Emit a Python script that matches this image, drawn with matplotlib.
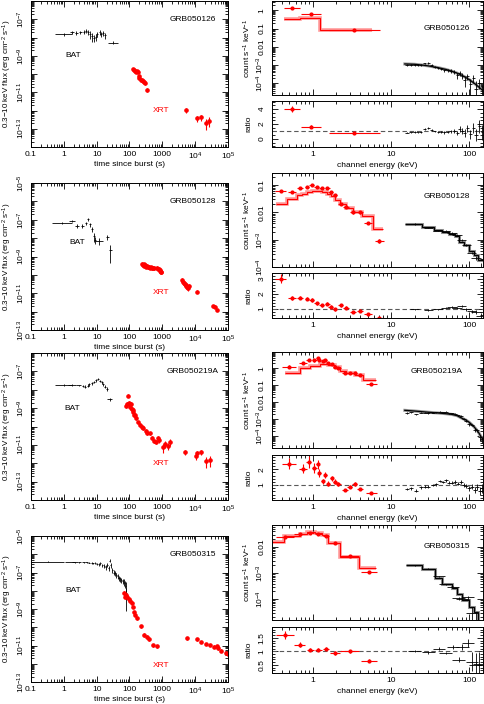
import numpy as np
import matplotlib.pyplot as plt
from matplotlib.ticker import FixedLocator, LogLocator, NullFormatter, FuncFormatter, AutoMinorLocator

plt.rcParams['font.family'] = ['Liberation Sans', 'DejaVu Sans']
plt.rcParams['mathtext.fontset'] = 'custom'
plt.rcParams['mathtext.rm'] = 'Liberation Sans'
plt.rcParams['mathtext.it'] = 'Liberation Sans:italic'
plt.rcParams['font.size'] = 6

names = ['GRB050126', 'GRB050128', 'GRB050219A', 'GRB050315']

# ---------------- light curves ----------------
# GRB050126
lc1_bat_t = [0.98, 1.76, 2.4, 3.15, 4.0, 4.8, 5.6, 6.3, 7.3, 8.4, 9.4, 10.5, 12.2, 14.0, 16.1, 18.5, 32.0]
lc1_bat_f = [1.55e-8, 1.9e-8, 1.8e-8, 1.9e-8, 2.1e-8, 2.3e-8, 1.9e-8, 1.5e-8, 1.2e-8, 1.0e-8, 1.1e-8, 1.6e-8,
             1.9e-8, 1.5e-8, 1.7e-8, 1.3e-8, 5.2e-9]
lc1_bat_dt = [0.25, 0.06, 0.05, 0.04, 0.03, 0.03, 0.03, 0.03, 0.03, 0.03, 0.03, 0.03, 0.03, 0.03, 0.03, 0.03, 0.15]
lc1_bat_df = [0.2, 0.15, 0.2, 0.2, 0.25, 0.25, 0.3, 0.45, 0.5, 0.45, 0.4, 0.3, 0.3, 0.3, 0.3, 0.35, 0.2]
lc1_xrt_t = [125, 137, 147, 157, 165, 176, 190, 198, 217, 233, 250, 274, 300, 330, 5200, 11000, 15500, 21000, 26000]
lc1_xrt_f = [1.95e-10, 1.7e-10, 1.4e-10, 1.3e-10, 1.45e-10, 1.3e-10, 7.4e-11, 6.3e-11, 4.9e-11, 4.5e-11, 4.2e-11,
             3.8e-11, 3.2e-11, 1.4e-11, 1.05e-12, 3.7e-13, 4.2e-13, 2.1e-13, 2.75e-13]
lc1_xrt_df = [0.15, 0.15, 0.15, 0.15, 0.15, 0.15, 0.2, 0.2, 0.2, 0.2, 0.2, 0.2, 0.2, 0.3, 0.3, 0.4, 0.4, 0.6, 0.55]

# GRB050128
lc2_bat_t = [0.87, 1.75, 2.6, 3.7, 4.8, 5.4, 6.3, 7.1, 8.4, 9.2, 12.0, 21.0, 26.0]
lc2_bat_f = [6.9e-8, 8.5e-8, 4.6e-8, 4.6e-8, 6.5e-8, 1.1e-7, 5.6e-8, 3.0e-8, 1.3e-8, 7.9e-9, 6.9e-9, 1.2e-8, 2.3e-9]
lc2_bat_dt = [0.3, 0.1, 0.06, 0.06, 0.03, 0.03, 0.03, 0.03, 0.03, 0.03, 0.12, 0.04, 0.04]
lc2_bat_df = [0.15, 0.15, 0.2, 0.2, 0.2, 0.2, 0.25, 0.3, 0.5, 0.4, 0.4, 0.3, 0.8]
lc2_xrt_t = [240, 255, 270, 285, 300, 320, 345, 370, 395, 420, 450, 480, 510, 540,
             700, 740, 780, 820, 860, 900, 940,
             3900, 4200, 4500, 4800, 5100, 5400, 5700, 6000, 6400,
             11000, 35000, 39000, 46000]
lc2_xrt_f = [3.98e-10, 3.55e-10, 3.8e-10, 3.16e-10, 3.47e-10, 2.82e-10, 3.09e-10, 2.63e-10, 2.82e-10, 2.51e-10,
             2.63e-10, 2.4e-10, 2.51e-10, 2.29e-10,
             2.4e-10, 2.19e-10, 2.0e-10, 1.86e-10, 1.66e-10, 1.51e-10, 1.38e-10,
             5.0e-11, 4.2e-11, 3.5e-11, 3.2e-11, 2.8e-11, 2.5e-11, 2.2e-11, 2.0e-11, 2.6e-11,
             1.23e-11, 2.1e-12, 1.9e-12, 1.26e-12]
lc2_xrt_df = [0.2, 0.2, 0.2, 0.2, 0.2, 0.2, 0.2, 0.2, 0.2, 0.2, 0.2, 0.2, 0.2, 0.2,
              0.2, 0.2, 0.2, 0.2, 0.2, 0.2, 0.2,
              0.3, 0.3, 0.3, 0.3, 0.3, 0.3, 0.3, 0.3, 0.3,
              0.2, 0.15, 0.15, 0.15]

# GRB050219A
lc3_bat_t = [0.98, 1.76, 2.8, 3.8, 4.5, 5.3, 6.0, 7.1, 8.4, 9.6, 10.8, 12.7, 14.3, 16.1, 18.0, 20.5, 25.0]
lc3_bat_f = [1.8e-8, 1.8e-8, 1.75e-8, 1.6e-8, 1.5e-8, 1.7e-8, 2.0e-8, 2.25e-8, 2.6e-8, 3.25e-8, 3.9e-8, 3.0e-8,
             2.6e-8, 2.0e-8, 1.5e-8, 1.1e-8, 3.0e-9]
lc3_bat_dt = [0.25, 0.12, 0.08, 0.04, 0.03, 0.03, 0.03, 0.03, 0.03, 0.03, 0.03, 0.03, 0.03, 0.03, 0.03, 0.03, 0.08]
lc3_bat_df = [0.1, 0.1, 0.1, 0.15, 0.15, 0.15, 0.15, 0.15, 0.15, 0.15, 0.15, 0.15, 0.2, 0.2, 0.2, 0.25, 0.2]
lc3_xrt_t = [78.5, 82, 88, 99, 104, 109, 116, 125, 130, 137, 144, 162, 183, 210, 234, 263, 310, 350, 420, 475,
             560, 640, 750, 810, 1020, 1190, 1440, 1690, 4950, 10500, 11500, 15300, 22000, 27800]
lc3_xrt_f = [1.38e-9, 1.62e-9, 4.8e-9, 1.82e-9, 1.2e-9, 1.62e-9, 9.1e-10, 7.9e-10, 6.5e-10, 4.3e-10, 4.3e-10,
             2.8e-10, 1.7e-10, 1.23e-10, 1.0e-10, 8.1e-11, 5.8e-11, 4.3e-11, 4.3e-11, 2.5e-11, 1.66e-11, 1.41e-11,
             2.3e-11, 1.86e-11, 7.2e-12, 1.1e-11, 9.1e-12, 1.41e-11, 4.0e-12, 2.6e-12, 3.5e-12, 4.0e-12, 1.35e-12,
             1.5e-12]
lc3_xrt_df = [0.3, 0.3, 0.2, 0.3, 0.3, 0.3, 0.2, 0.2, 0.2, 0.2, 0.2, 0.2, 0.2, 0.2, 0.2, 0.2, 0.2, 0.2, 0.2, 0.25,
              0.25, 0.25, 0.3, 0.3, 0.5, 0.4, 0.4, 0.4, 0.3, 0.4, 0.4, 0.3, 0.6, 0.6]

# GRB050315
lc4_bat_t = [0.32, 1.5, 2.2, 3.0, 4.0, 5.0, 6.0, 7.0, 8.0, 9.0, 10, 11.5, 13, 15, 17, 19, 21, 23, 25, 27, 30,
             33, 36, 40, 44, 48, 52, 57, 62, 67, 72, 76, 80]
lc4_bat_f = [3.9e-7, 3.8e-7, 3.7e-7, 3.6e-7, 3.55e-7, 3.6e-7, 3.5e-7, 3.3e-7, 3.2e-7, 3.4e-7, 3.0e-7, 2.8e-7,
             3.2e-7, 2.5e-7, 2.4e-7, 2.0e-7, 2.6e-7, 1.8e-7, 4.5e-7, 2.5e-7, 1.4e-7, 1.0e-7, 8.9e-8, 7.1e-8,
             6.3e-8, 5.0e-8, 4.5e-8, 4.0e-8, 3.5e-8, 3.2e-8, 2.5e-8, 1.8e-8, 7.9e-9]
lc4_bat_dt = [0.5, 0.15, 0.08, 0.06, 0.05, 0.04, 0.03, 0.03, 0.03, 0.02, 0.02, 0.02, 0.02, 0.02, 0.02, 0.02,
              0.02, 0.02, 0.02, 0.02, 0.02, 0.02, 0.02, 0.02, 0.02, 0.02, 0.02, 0.02, 0.02, 0.02, 0.02, 0.02, 0.02]
lc4_bat_df = [0.05, 0.05, 0.05, 0.05, 0.05, 0.05, 0.1, 0.1, 0.1, 0.1, 0.15, 0.15, 0.2, 0.2, 0.25, 0.3, 0.25,
              0.3, 0.2, 0.3, 0.3, 0.3, 0.3, 0.3, 0.3, 0.3, 0.3, 0.3, 0.3, 0.4, 0.4, 0.6, 0.9]
lc4_xrt_t = [68, 73, 79, 86, 95, 104, 116, 125, 137, 150, 171, 218, 275, 330, 400, 510, 670,
             5500, 11000, 15500, 22000, 29000, 37000, 45000, 50000, 63000, 85000, 100000]
lc4_xrt_f = [7.2e-9, 4.8e-9, 5.9e-9, 4.4e-9, 3.4e-9, 2.9e-9, 2.2e-9, 1.35e-9, 7.1e-10, 4.7e-10, 3.1e-10,
             1.17e-10, 3.8e-11, 3.0e-11, 2.2e-11, 1.07e-11, 9.3e-12, 2.45e-11, 2.2e-11, 1.6e-11, 1.2e-11,
             1.07e-11, 8.7e-12, 9.3e-12, 6.9e-12, 5.2e-12, 4.1e-12, 3.4e-12]
lc4_xrt_df = [0.3, 0.3, 0.3, 0.2, 0.2, 0.2, 0.2, 0.15, 0.15, 0.15, 0.15, 0.2, 0.2, 0.2, 0.2, 0.2, 0.2,
              0.15, 0.15, 0.15, 0.15, 0.15, 0.15, 0.2, 0.2, 0.2, 0.2, 0.2]

# ---------------- spectra ----------------
# GRB050126
sp1_xrt_e = [0.54, 0.95, 3.4]
sp1_xrt_de = [0.1, 0.13, 0.33]
sp1_xrt_c = [1.26, 0.6, 0.083]
sp1_xrt_r = [4.0, 1.6, 0.8]
sp1_xrt_dr = [0.45, 0.2, 0.08]
sp1_mod_edges = [0.43, 0.69, 1.24, 5.75]
sp1_mod_vals = [0.33, 0.4, 0.086]
sp1_bat_e = [16, 18, 20, 22, 24, 27, 30, 33, 36, 40, 44, 48, 53, 58, 64, 70, 76, 82, 88, 95, 103, 112, 122, 134, 146]
sp1_bat_c = [1.0e-3, 1.05e-3, 1.05e-3, 1.0e-3, 1.0e-3, 1.25e-3, 1.3e-3, 1.0e-3, 8.0e-4, 6.8e-4, 6.0e-4, 5.2e-4,
             5.2e-4, 4.8e-4, 4.2e-4, 2.8e-4, 3.6e-4, 2.6e-4, 1.6e-4, 2.4e-4, 9e-5, 1.9e-4, 5e-5, 1.1e-4, 4e-5]
sp1_bat_r = [0.85, 0.88, 0.9, 0.88, 0.92, 1.3, 1.45, 1.2, 1.0, 0.95, 0.92, 0.88, 0.95, 1.0, 1.05, 0.8, 1.3, 1.1,
             0.8, 1.4, 0.6, 1.5, 0.5, 1.7, 0.9]
sp1_bat_dr = [0.1, 0.1, 0.1, 0.1, 0.1, 0.12, 0.12, 0.12, 0.12, 0.12, 0.14, 0.15, 0.15, 0.2, 0.25, 0.3, 0.4, 0.4,
              0.5, 0.5, 0.6, 0.7, 0.8, 0.9, 1.0]
sp1_bat_me = [15, 20, 25, 30, 40, 50, 60, 70, 80, 90, 100, 120, 150]
sp1_bat_mc = [1.15e-3, 1.1e-3, 1.0e-3, 9e-4, 7.2e-4, 5.8e-4, 4.6e-4, 3.6e-4, 2.8e-4, 2.1e-4, 1.6e-4, 9e-5, 4e-5]

# GRB050128
sp2_xrt_e = [0.386, 0.54, 0.69, 0.84, 0.97, 1.12, 1.30, 1.53, 1.69, 1.92, 2.26, 2.64, 3.27, 3.97, 5.06, 7.1]
sp2_xrt_de = [0.07, 0.05, 0.04, 0.03, 0.03, 0.03, 0.03, 0.03, 0.03, 0.03, 0.03, 0.04, 0.04, 0.04, 0.05, 0.06]
sp2_xrt_c = [0.062, 0.056, 0.076, 0.087, 0.1, 0.087, 0.076, 0.081, 0.056, 0.042, 0.020, 0.016, 0.010, 0.010,
             0.0042, 9.0e-4]
sp2_xrt_r = [3.0, 1.75, 1.75, 1.7, 1.6, 1.4, 1.25, 1.35, 1.15, 1.0, 1.25, 1.1, 0.8, 0.9, 0.65, 0.42]
sp2_xrt_dr = [0.3, 0.12, 0.1, 0.1, 0.1, 0.1, 0.1, 0.1, 0.1, 0.1, 0.1, 0.1, 0.08, 0.08, 0.07, 0.06]
sp2_mod_edges = [0.333, 0.469, 0.627, 0.726, 0.839, 0.971, 1.30, 1.53, 1.69, 1.92, 2.22, 2.64, 3.27, 4.30, 5.85, 7.97]
sp2_mod_vals = [0.020, 0.032, 0.043, 0.049, 0.056, 0.062, 0.056, 0.049, 0.039, 0.028, 0.020, 0.0145, 0.010,
                0.0076, 0.0024]
sp2_bat_e = [20, 30, 40, 50, 60, 70, 80, 92, 107, 122, 140]
sp2_bat_c = [3.78e-3, 2.76e-3, 2.16e-3, 2.15e-3, 1.79e-3, 1.46e-3, 9.8e-4, 6.5e-4, 3.3e-4, 2.2e-4, 1.0e-4]
sp2_bat_r = [0.97, 0.95, 0.98, 1.1, 1.12, 1.08, 1.2, 1.0, 0.85, 0.8, 0.55]
sp2_bat_dr = [0.05, 0.05, 0.05, 0.06, 0.07, 0.08, 0.08, 0.1, 0.1, 0.15, 0.2]
sp2_bat_me = [15, 25, 35, 45, 55, 65, 75, 85, 100, 115, 130, 150]
sp2_bat_mc = [3.9e-3, 2.9e-3, 2.2e-3, 1.95e-3, 1.6e-3, 1.35e-3, 8.2e-4, 6.5e-4, 3.9e-4, 2.8e-4, 1.8e-4]

# GRB050219A
sp3_xrt_e = [0.5, 0.75, 0.88, 1.04, 1.15, 1.21, 1.34, 1.45, 1.58, 1.74, 1.92, 2.11, 2.56, 2.97, 3.43, 4.05, 5.58]
sp3_xrt_de = [0.09, 0.05, 0.03, 0.03, 0.02, 0.02, 0.02, 0.02, 0.02, 0.02, 0.02, 0.03, 0.04, 0.03, 0.03, 0.04, 0.07]
sp3_xrt_c = [1.26, 2.0, 3.2, 2.9, 4.0, 3.2, 2.5, 2.9, 2.0, 1.8, 1.26, 1.0, 0.5, 0.55, 0.55, 0.4, 0.11]
sp3_xrt_r = [2.35, 2.04, 2.46, 2.08, 2.31, 1.79, 1.25, 1.63, 1.10, 1.42, 1.21, 1.06, 0.69, 0.9, 1.06, 0.75, 0.48]
sp3_xrt_dr = [0.35, 0.3, 0.35, 0.3, 0.3, 0.25, 0.15, 0.2, 0.15, 0.15, 0.15, 0.12, 0.08, 0.1, 0.12, 0.08, 0.05]
sp3_mod_edges = [0.44, 0.69, 0.93, 1.24, 1.58, 1.92, 2.22, 2.69, 3.43, 4.38, 6.45]
sp3_mod_vals = [0.55, 1.0, 1.4, 1.8, 1.6, 1.15, 0.72, 0.55, 0.40, 0.21]
sp3_bat_e = [16, 18, 21, 24, 27, 30, 34, 38, 42, 46, 50, 55, 60, 66, 72, 78, 85, 92, 100, 108, 117, 126, 136, 146]
sp3_bat_c = [2.4e-3, 2.5e-3, 1.9e-3, 2.4e-3, 2.4e-3, 2.3e-3, 2.45e-3, 2.5e-3, 2.8e-3, 2.6e-3, 2.7e-3, 2.3e-3,
             2.2e-3, 2.1e-3, 1.7e-3, 1.55e-3, 1.05e-3, 8e-4, 5.2e-4, 4.5e-4, 2.4e-4, 2.2e-4, 8.4e-5, 6.4e-5]
sp3_bat_r = [0.75, 0.8, 0.65, 0.85, 0.9, 0.9, 1.0, 1.05, 1.25, 1.2, 1.3, 1.15, 1.15, 1.2, 1.1, 1.2, 1.0, 0.95,
             0.8, 0.9, 0.7, 0.9, 0.6, 0.8]
sp3_bat_dr = [0.08, 0.08, 0.08, 0.08, 0.08, 0.08, 0.08, 0.08, 0.08, 0.08, 0.08, 0.08, 0.08, 0.1, 0.1, 0.1, 0.12,
              0.12, 0.15, 0.15, 0.2, 0.2, 0.25, 0.3]
sp3_bat_me = [15, 20, 25, 30, 40, 50, 60, 70, 80, 90, 100, 115, 130, 150]
sp3_bat_mc = [3.3e-3, 3.0e-3, 2.75e-3, 2.55e-3, 2.3e-3, 2.1e-3, 1.9e-3, 1.6e-3, 1.15e-3, 9e-4, 6.5e-4, 3.6e-4,
              1.8e-4, 6e-5]

# GRB050315
sp4_xrt_e = [0.44, 0.68, 0.93, 1.18, 1.47, 1.92, 2.97, 5.2]
sp4_xrt_de = [0.12, 0.07, 0.05, 0.04, 0.04, 0.06, 0.12, 0.1]
sp4_xrt_c = [0.024, 0.032, 0.035, 0.032, 0.027, 0.0139, 4.5e-3, 1.1e-3]
sp4_xrt_r = [1.6, 1.25, 1.06, 1.06, 1.1, 0.94, 1.0, 0.66]
sp4_xrt_dr = [0.15, 0.08, 0.06, 0.06, 0.06, 0.06, 0.05, 0.07]
sp4_mod_edges = [0.30, 0.43, 0.69, 0.84, 1.07, 1.30, 1.58, 2.22, 3.90, 6.45]
sp4_mod_vals = [0.0155, 0.0257, 0.0324, 0.0363, 0.0339, 0.0288, 0.0138, 0.0042, 0.0016]
sp4_bat_e = [20, 30, 41, 50, 62, 73, 82, 96, 108, 121, 134]
sp4_bat_c = [2.0e-3, 1.45e-3, 7.5e-4, 3.8e-4, 3.0e-4, 1.1e-4, 1.05e-4, 1.2e-4, 3.1e-5, 1.65e-5, 8e-6]
sp4_bat_r = [1.0, 0.96, 1.1, 0.94, 1.16, 0.69, 1.16, 1.31, 0.62, 0.5, 0.54]
sp4_bat_dr = [0.04, 0.04, 0.05, 0.05, 0.07, 0.1, 0.12, 0.15, 0.35, 0.45, 0.45]
sp4_bat_me = [15.5, 25, 37, 45, 61, 70, 81, 98, 114, 131, 150]
sp4_bat_mc = [2.0e-3, 1.5e-3, 6.8e-4, 4e-4, 2.6e-4, 1.6e-4, 9e-5, 5e-5, 3.3e-5, 1.5e-5]

lc_ylims = [(1e-14, 1e-6), (1e-13, 1e-5), (1e-14, 1e-6), (1e-13, 1e-5)]
sp_ylims = [(2.3e-5, 3.2), (1e-4, 0.28), (2e-5, 9.0), (1.6e-5, 0.07)]
sp_ticks = [[1, 0.1, 0.01, 1e-3, 1e-4], [0.1, 0.01, 1e-3, 1e-4], [1, 0.1, 0.01, 1e-3, 1e-4], [0.01, 1e-3, 1e-4]]
r_ylims = [(-1.07, 5.07), (0.4, 3.4), (0.06, 2.9), (0.2, 1.9)]
r_ticks = [[0, 2, 4], [1, 2, 3], [1, 2], [0.5, 1, 1.5]]
r_labels = [['0', '2', '4'], ['1', '2', '3'], ['1', '2'], ['0.5', '1', '1.5']]
bat_text = [(2.0, 1e-9), (2.5, 5.7e-9), (1.8, 1e-9), (1.9, 1e-8)]
xrt_text = [(950, 1e-12), (950, 1.1e-11), (950, 1e-12), (950, 8.5e-13)]
sp_name_pos = [(0.83, 0.71), (0.83, 0.75), (0.78, 0.80), (0.83, 0.77)]
bat_stepped = [False, True, False, True]
bat_de = [0.02, 0.06, 0.025, 0.08]

# pixel boxes (x0, y0, x1, y1)
lc_boxes = [(31, 1, 228, 147), (31, 183, 228, 330), (31, 353, 228, 500), (31, 536, 228, 682)]
sp_boxes = [(272, 1, 483, 95), (272, 173, 483, 267), (272, 352, 483, 448), (272, 525, 483, 620)]
r_boxes = [(272, 101, 483, 147), (272, 273, 483, 318), (272, 455, 483, 500), (272, 627, 483, 673)]

W, H = 485, 704
fig = plt.figure(figsize=(W / 100, H / 100), dpi=100)


def px_axes(box):
    x0, y0, x1, y1 = box
    return fig.add_axes([x0 / W, 1 - y1 / H, (x1 - x0) / W, (y1 - y0) / H])


def dex_err(x, d):
    x = np.asarray(x, float)
    d = np.asarray(d, float)
    return [x - x / 10 ** d, x * 10 ** d - x]


def rel_err(y, r):
    y = np.asarray(y, float)
    r = np.asarray(r, float)
    return [y * np.minimum(r, 0.97), y * r]


def style(ax, ypad):
    ax.tick_params(which='both', direction='in', top=True, right=True, width=0.6, labelsize=6, pad=3)
    ax.tick_params(axis='y', pad=ypad)
    ax.tick_params(which='major', length=4)
    ax.tick_params(which='minor', length=2)
    for s in ax.spines.values():
        s.set_linewidth(0.7)


def lc_xfmt(v, pos):
    e = int(round(np.log10(v)))
    return {-1: '0.1', 0: '1', 1: '10', 2: '100', 3: '1000'}.get(e, r'$10^{%d}$' % e)


def odd_fmt(v, pos):
    e = int(round(np.log10(v)))
    return r'$10^{%d}$' % e if e % 2 else ''


def sp_fmt(v, pos):
    e = int(round(np.log10(v)))
    return {0: '1', -1: '0.1', -2: '0.01'}.get(e, r'$10^{%d}$' % e)


def energy_axis(ax):
    ax.set_xscale('log')
    ax.set_xlim(0.3, 150)
    ax.xaxis.set_major_locator(FixedLocator([1, 10, 100]))
    ax.xaxis.set_minor_locator(LogLocator(base=10, subs=np.arange(2, 10)))
    ax.xaxis.set_minor_formatter(NullFormatter())


lcs = [
    (lc1_bat_t, lc1_bat_f, lc1_bat_dt, lc1_bat_df, lc1_xrt_t, lc1_xrt_f, lc1_xrt_df),
    (lc2_bat_t, lc2_bat_f, lc2_bat_dt, lc2_bat_df, lc2_xrt_t, lc2_xrt_f, lc2_xrt_df),
    (lc3_bat_t, lc3_bat_f, lc3_bat_dt, lc3_bat_df, lc3_xrt_t, lc3_xrt_f, lc3_xrt_df),
    (lc4_bat_t, lc4_bat_f, lc4_bat_dt, lc4_bat_df, lc4_xrt_t, lc4_xrt_f, lc4_xrt_df),
]
sps = [
    (sp1_xrt_e, sp1_xrt_de, sp1_xrt_c, sp1_xrt_r, sp1_xrt_dr, sp1_mod_edges, sp1_mod_vals,
     sp1_bat_e, sp1_bat_c, sp1_bat_r, sp1_bat_dr, sp1_bat_me, sp1_bat_mc),
    (sp2_xrt_e, sp2_xrt_de, sp2_xrt_c, sp2_xrt_r, sp2_xrt_dr, sp2_mod_edges, sp2_mod_vals,
     sp2_bat_e, sp2_bat_c, sp2_bat_r, sp2_bat_dr, sp2_bat_me, sp2_bat_mc),
    (sp3_xrt_e, sp3_xrt_de, sp3_xrt_c, sp3_xrt_r, sp3_xrt_dr, sp3_mod_edges, sp3_mod_vals,
     sp3_bat_e, sp3_bat_c, sp3_bat_r, sp3_bat_dr, sp3_bat_me, sp3_bat_mc),
    (sp4_xrt_e, sp4_xrt_de, sp4_xrt_c, sp4_xrt_r, sp4_xrt_dr, sp4_mod_edges, sp4_mod_vals,
     sp4_bat_e, sp4_bat_c, sp4_bat_r, sp4_bat_dr, sp4_bat_me, sp4_bat_mc),
]

for i in range(4):
    # light curve
    bt, bf, bdt, bdf, xt, xf, xdf = lcs[i]
    ax = px_axes(lc_boxes[i])
    style(ax, 3.0)
    ax.set_xscale('log')
    ax.set_yscale('log')
    ax.errorbar(bt, bf, xerr=dex_err(bt, bdt), yerr=rel_err(bf, bdf), fmt='none', ecolor='k',
                elinewidth=0.6, capsize=0)
    ax.errorbar(xt, xf, yerr=rel_err(xf, xdf), fmt='o', ms=2.3, color='red', mec='red',
                elinewidth=0.8, capsize=0)
    ax.set_xlim(0.1, 1e5)
    lo, hi = lc_ylims[i]
    ax.set_ylim(lo, hi)
    ax.xaxis.set_major_locator(FixedLocator([0.1, 1, 10, 100, 1000, 1e4, 1e5]))
    ax.xaxis.set_major_formatter(FuncFormatter(lc_xfmt))
    ax.xaxis.set_minor_locator(LogLocator(base=10, subs=np.arange(2, 10)))
    ax.xaxis.set_minor_formatter(NullFormatter())
    ax.yaxis.set_major_locator(FixedLocator(10.0 ** np.arange(np.log10(lo), np.log10(hi) + 0.5)))
    ax.yaxis.set_major_formatter(FuncFormatter(odd_fmt))
    ax.yaxis.set_minor_locator(LogLocator(base=10, subs=np.arange(2, 10), numticks=20))
    ax.yaxis.set_minor_formatter(NullFormatter())
    plt.setp(ax.get_yticklabels(), rotation=90, va='center')
    ax.set_xlabel('time since burst (s)', fontsize=6)
    ax.xaxis.set_label_coords(0.5, -0.095)
    ax.set_ylabel('0.3\u221210 keV flux (erg cm$^{-2}$ s$^{-1}$)', fontsize=5.8)
    ax.yaxis.set_label_coords(-0.088, 0.5)
    ax.text(*bat_text[i], 'BAT', color='k', fontsize=6, ha='center', va='center')
    ax.text(*xrt_text[i], 'XRT', color='red', fontsize=6, ha='center', va='center')
    ax.text(0.82, 0.875, names[i], transform=ax.transAxes, fontsize=6, ha='center', va='center')

    # spectrum and ratio
    (xe, xde, xc, xr, xdr, me, mv, be, bc, br, bdr, bme, bmc) = sps[i]
    axs = px_axes(sp_boxes[i])
    axr = px_axes(r_boxes[i])
    style(axs, 4.5)
    style(axr, 4.5)
    energy_axis(axs)
    energy_axis(axr)
    axs.set_yscale('log')
    xrel = np.asarray(xdr) / np.asarray(xr)
    axs.stairs(mv, me, baseline=None, color='#ff9a9a', lw=2.6)
    axs.stairs(mv, me, baseline=None, color='red', lw=0.8)
    axs.errorbar(xe, xc, xerr=dex_err(xe, xde), yerr=rel_err(xc, xrel), fmt='o', ms=2.0, color='red',
                 mec='red', elinewidth=0.8, capsize=0)
    if bat_stepped[i]:
        axs.stairs(bmc, bme, baseline=None, color='0.6', lw=2.2)
        axs.stairs(bmc, bme, baseline=None, color='k', lw=0.9)
    else:
        axs.plot(bme, bmc, color='0.6', lw=2.2)
        axs.plot(bme, bmc, color='k', lw=0.9)
    brel = np.asarray(bdr) / np.asarray(br)
    axs.errorbar(be, bc, xerr=dex_err(be, [bat_de[i]] * len(be)), yerr=rel_err(bc, brel), fmt='none',
                 ecolor='k', elinewidth=0.6, capsize=0)
    slo, shi = sp_ylims[i]
    axs.set_ylim(slo, shi)
    axs.yaxis.set_major_locator(FixedLocator(sp_ticks[i]))
    axs.yaxis.set_major_formatter(FuncFormatter(sp_fmt))
    axs.yaxis.set_minor_locator(LogLocator(base=10, subs=np.arange(2, 10), numticks=20))
    axs.yaxis.set_minor_formatter(NullFormatter())
    axs.xaxis.set_major_formatter(NullFormatter())
    plt.setp(axs.get_yticklabels(), rotation=90, va='center')
    axs.set_ylabel('count s$^{-1}$ keV$^{-1}$', fontsize=6)
    axs.yaxis.set_label_coords(-0.092, 0.5)
    axs.text(*sp_name_pos[i], names[i], transform=axs.transAxes, fontsize=6, ha='center', va='center')

    axr.axhline(1.0, color='0.35', lw=0.8, ls=(0, (4, 2.5)))
    axr.errorbar(xe, xr, xerr=dex_err(xe, xde), yerr=xdr, fmt='o', ms=2.0, color='red', mec='red',
                 elinewidth=0.8, capsize=0)
    axr.errorbar(be, br, xerr=dex_err(be, [bat_de[i]] * len(be)), yerr=bdr, fmt='none', ecolor='k',
                 elinewidth=0.6, capsize=0)
    axr.set_ylim(*r_ylims[i])
    axr.yaxis.set_major_locator(FixedLocator(r_ticks[i]))
    axr.set_yticklabels(r_labels[i])
    axr.yaxis.set_minor_locator(AutoMinorLocator())
    axr.xaxis.set_major_formatter(FuncFormatter(lambda v, p: '%g' % v))
    plt.setp(axr.get_yticklabels(), rotation=90, va='center')
    axr.set_ylabel('ratio', fontsize=6)
    axr.yaxis.set_label_coords(-0.092, 0.5)
    axr.set_xlabel('channel energy (keV)', fontsize=6)
    axr.xaxis.set_label_coords(0.5, -0.33)

fig.savefig('out.png', dpi=100)
